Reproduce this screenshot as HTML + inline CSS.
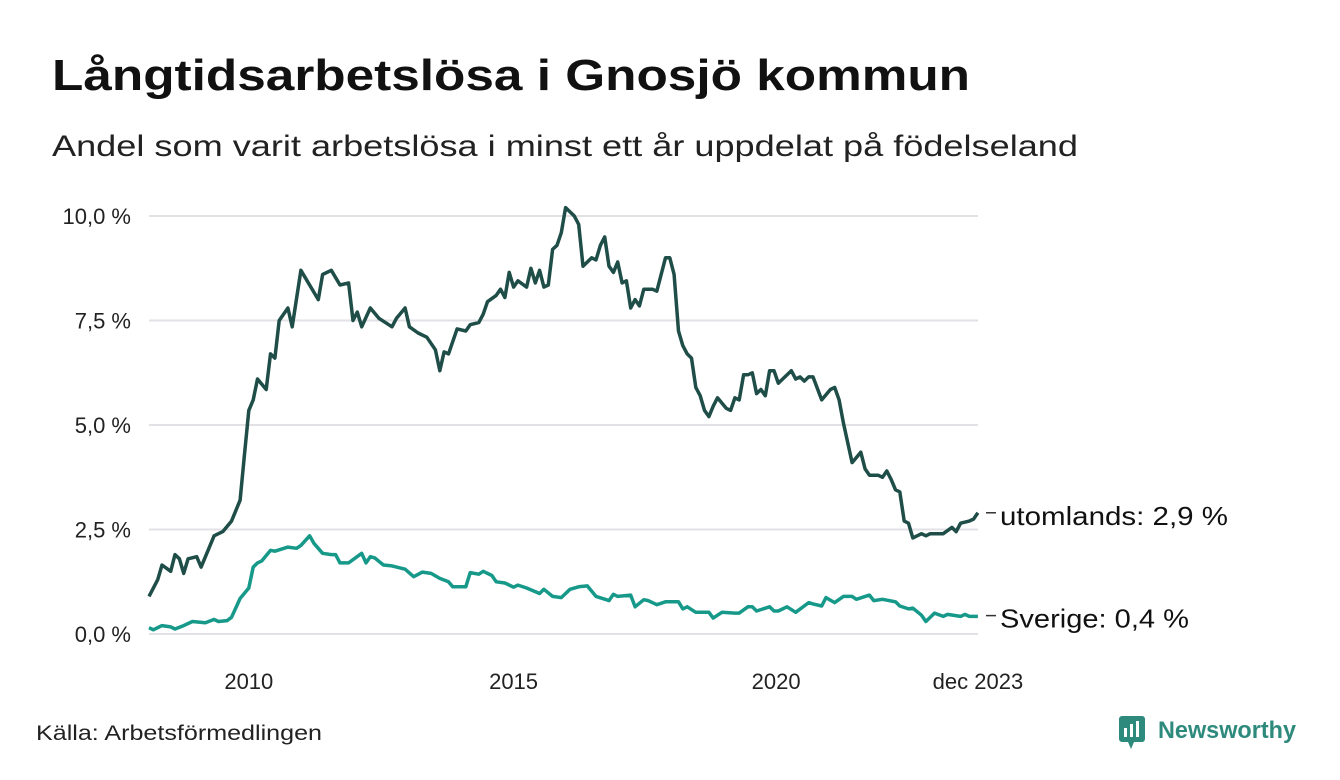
<!DOCTYPE html>
<html><head><meta charset="utf-8"><style>
body{margin:0;width:1340px;height:780px;background:#fff;font-family:"Liberation Sans",sans-serif;overflow:hidden}
svg{position:absolute;left:0;top:0}
</style></head><body>
<svg width="1340" height="780">
<text x="52" y="90" font-size="44" font-weight="bold" fill="#111" textLength="918" lengthAdjust="spacingAndGlyphs">Långtidsarbetslösa i Gnosjö kommun</text>
<text x="52" y="156" font-size="30" fill="#222" textLength="1026" lengthAdjust="spacingAndGlyphs">Andel som varit arbetslösa i minst ett år uppdelat på födelseland</text>
<g id="grid"></g><g id="lines"></g>
<text x="36" y="740" font-size="21" fill="#222" textLength="286" lengthAdjust="spacingAndGlyphs">Källa: Arbetsförmedlingen</text>
<g>
<rect x="1119" y="716" width="26" height="26" rx="3" fill="#2e8a7c"/>
<rect x="1124" y="728" width="3" height="9" fill="#fff"/><rect x="1130" y="724" width="3" height="13" fill="#fff"/><rect x="1136" y="721" width="3" height="16" fill="#fff"/>
<polygon points="1128,742 1134,742 1131,749" fill="#2e8a7c"/>
<text x="1158" y="738" font-size="24" font-weight="bold" fill="#2e8a7c" textLength="138" lengthAdjust="spacingAndGlyphs">Newsworthy</text>
</g>
</svg>
<script>
const yTicks=[0,2.5,5,7.5,10];
const yTickLabels=["0,0 %","2,5 %","5,0 %","7,5 %","10,0 %"];
const xTickMonths=[23,84,144.5,191];
const xTickLabels=["2010","2015","2020","dec 2023"];
const utoMonths=[0,2,3,5,6,7,8,9,11,12,14,15,17,19,21,22,23,24,25,27,28,29,30,32,33,35,37,39,40,42,44,46,47,48,49,51,53,56,57,59,60,62,64,66,67,68,69,71,73,74,76,77,78,80,81,82,83,84,85,87,88,89,90,91,92,93,94,95,96,98,99,100,102,103,104,105,106,107,108,109,110,111,112,113,114,116,117,119,120,121,122,123,124,125,126,127,128,129,130,131,133,134,135,136,137,138,139,140,141,142,143,144,145,148,149,150,151,152,153,155,157,158,159,160,162,164,165,166,168,169,170,171,172,173,174,175,176,177,178,179,180,181,182,183,185,186,187,189,190,191];
const utoValues=[0.9,1.3,1.65,1.5,1.9,1.8,1.45,1.8,1.85,1.6,2.1,2.35,2.45,2.7,3.2,4.3,5.35,5.6,6.1,5.85,6.7,6.6,7.5,7.8,7.35,8.7,8.35,8.0,8.6,8.7,8.35,8.4,7.5,7.7,7.35,7.8,7.55,7.35,7.55,7.8,7.35,7.2,7.1,6.8,6.3,6.75,6.7,7.3,7.25,7.4,7.45,7.65,7.95,8.1,8.25,8.05,8.65,8.3,8.45,8.3,8.75,8.4,8.7,8.3,8.35,9.2,9.3,9.6,10.2,10.0,9.8,8.8,9.0,8.95,9.3,9.5,8.8,8.65,8.9,8.4,8.45,7.8,8.0,7.85,8.25,8.25,8.2,9.0,9.0,8.6,7.25,6.9,6.7,6.6,5.9,5.7,5.35,5.2,5.45,5.65,5.4,5.35,5.65,5.6,6.2,6.2,6.25,5.75,5.85,5.7,6.3,6.3,6.0,6.3,6.1,6.15,6.05,6.15,6.15,5.6,5.85,5.9,5.6,5.05,4.1,4.35,3.95,3.8,3.8,3.75,3.9,3.7,3.45,3.4,2.7,2.65,2.3,2.35,2.4,2.35,2.4,2.4,2.4,2.4,2.55,2.45,2.65,2.7,2.75,2.9];
const sveMonths=[0,1,3,5,6,8,10,13,15,16,18,19,21,23,24,25,26,28,29,32,34,35,37,38,40,42,43,44,46,49,50,51,52,54,56,59,61,63,65,67,69,70,73,74,76,77,79,80,82,84,85,87,90,91,93,95,97,99,101,103,106,107,108,111,112,114,115,117,119,122,123,124,126,129,130,132,135,136,138,139,140,143,144,145,147,149,152,153,155,156,158,160,162,163,166,167,169,172,173,175,176,178,179,181,183,184,187,188,189,191];
const sveValues=[0.15,0.1,0.2,0.17,0.12,0.2,0.3,0.27,0.35,0.3,0.32,0.4,0.85,1.1,1.6,1.7,1.75,2.0,1.98,2.08,2.05,2.12,2.35,2.17,1.93,1.9,1.9,1.7,1.7,1.93,1.7,1.85,1.82,1.65,1.63,1.55,1.37,1.48,1.45,1.33,1.25,1.13,1.13,1.47,1.43,1.5,1.4,1.25,1.22,1.12,1.17,1.1,0.97,1.07,0.9,0.87,1.07,1.13,1.15,0.9,0.8,0.95,0.9,0.93,0.65,0.82,0.8,0.7,0.77,0.77,0.6,0.65,0.52,0.52,0.38,0.52,0.5,0.5,0.65,0.65,0.55,0.65,0.55,0.55,0.65,0.52,0.75,0.72,0.67,0.87,0.75,0.9,0.9,0.83,0.93,0.8,0.83,0.77,0.67,0.6,0.62,0.45,0.3,0.5,0.42,0.47,0.42,0.47,0.42,0.42,0.5,0.44];
const NS="http://www.w3.org/2000/svg";
const xS=t=>149+t*4.34, yS=v=>634-v*41.8;
const grid=document.getElementById('grid'), lines=document.getElementById('lines');
function mk(tag,attrs,parent){const e=document.createElementNS(NS,tag);for(const k in attrs)e.setAttribute(k,attrs[k]);parent.appendChild(e);return e;}
yTicks.forEach((v,i)=>{
  const l=mk('line',{x1:149,x2:978,y1:yS(v),y2:yS(v),stroke:'#e2e2e6','stroke-width':2},grid);
  
  
  const t=mk('text',{x:131,y:yS(v)+8,'text-anchor':'end','font-size':22,fill:'#222'},grid);
  t.textContent=yTickLabels[i];
  
  
});
xTickMonths.forEach((m,i)=>{
  const t=mk('text',{x:xS(m),y:689,'text-anchor':'middle','font-size':22,fill:'#222'},grid);
  t.textContent=xTickLabels[i];
  
  
});
function series(ms,vs,color,name,label,w){
  const d=ms.map((m,i)=>(i?'L':'M')+xS(m).toFixed(1)+','+yS(vs[i]).toFixed(1)).join('');
  const p=mk('path',{d:d,fill:'none',stroke:color,'stroke-width':3.5,'stroke-linejoin':'round'},lines);
  
  
  const last=vs[vs.length-1], y=yS(last);
  mk('line',{x1:986,x2:996,y1:y,y2:y,stroke:'#333','stroke-width':1.5},lines);
  const t=mk('text',{x:1000,y:y+12,'font-size':26,fill:'#111',textLength:w,lengthAdjust:'spacingAndGlyphs'},lines);
  t.textContent=label+': '+last.toFixed(1).replace('.',',')+' %';
  
  
}
series(utoMonths,utoValues,'#1f4d47','utomlands','utomlands',228);
series(sveMonths,sveValues,'#17998a','sverige','Sverige',189);
</script>
</body></html>
